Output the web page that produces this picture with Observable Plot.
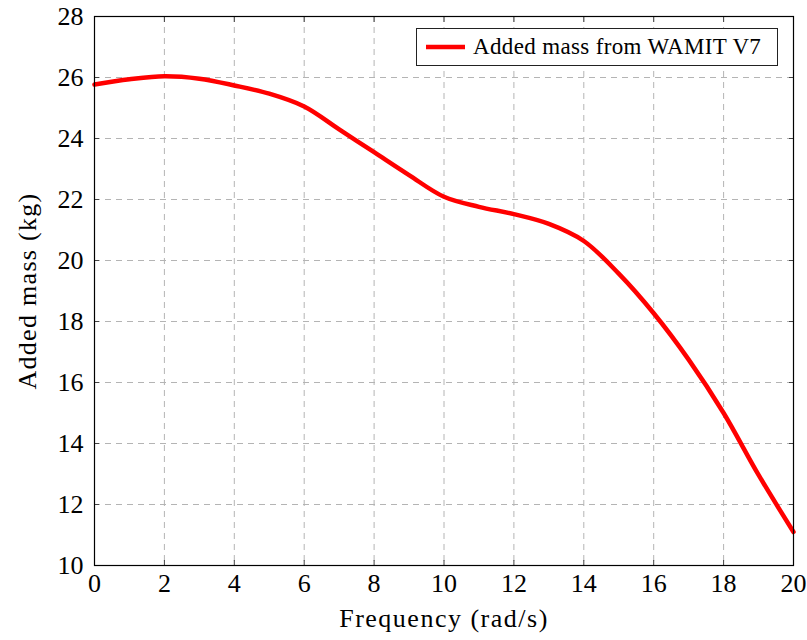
<!DOCTYPE html>
<html>
<head>
<meta charset="utf-8">
<script src="https://cdn.jsdelivr.net/npm/d3@7"></script>
<script src="https://cdn.jsdelivr.net/npm/@observablehq/plot@0.6"></script>
<style>
  html, body { margin: 0; padding: 0; background: #fff; }
  #wrap { position: relative; width: 807px; height: 640px; font-family: "Liberation Serif"; }
  #legend { position: absolute; left: 416px; top: 28px; width: 362px; height: 38px; border: 1px solid #222;
            background: #fff; box-sizing: border-box; display: flex; align-items: center; font-size: 23px;
            letter-spacing: 0.35px; color: #000; white-space: nowrap; }
  #legend svg { margin-left: 9px; margin-right: 8px; }
</style>
</head>
<body>
<div id="wrap"></div>
<script>
// Data
const frequency = [0, 1, 2, 3, 4, 5, 6, 7, 8, 9, 10, 11, 12, 13, 14, 15, 16, 17, 18, 19, 20];
const addedMass = [25.77, 25.94, 26.04, 25.96, 25.74, 25.47, 25.05, 24.3, 23.55, 22.8, 22.09, 21.76, 21.52, 21.2, 20.64, 19.57, 18.27, 16.75, 15.0, 12.97, 11.1];
const xTicks = [0, 2, 4, 6, 8, 10, 12, 14, 16, 18, 20];
const yTicks = [10, 12, 14, 16, 18, 20, 22, 24, 26, 28];
const seriesName = "Added mass from WAMIT V7";
const xLabel = "Frequency (rad/s)";
const yLabel = "Added mass (kg)";

const data = frequency.map((f, i) => ({f, m: addedMass[i]}));

const gridStyle = {stroke: "#b4b4b4", strokeOpacity: 1, strokeWidth: 1, strokeDasharray: "6,5"};
const FONT = "Liberation Serif";

const chart = Plot.plot({
  width: 807,
  height: 640,
  marginLeft: 94,
  marginRight: 14,
  marginTop: 16,
  marginBottom: 75,
  style: {fontFamily: FONT, fontSize: "26px", color: "#000", background: "#fff"},
  x: {domain: [0, 20], label: null},
  y: {domain: [10, 28], label: null},
  marks: [
    Plot.gridX(xTicks, gridStyle),
    Plot.gridY(yTicks, gridStyle),
    Plot.line(data, {x: "f", y: "m", stroke: "#ff0000", strokeWidth: 4.5, curve: "catmull-rom"}),
    Plot.axisX(xTicks, {anchor: "bottom", tickSize: 0, tickPadding: 8, fontSize: 26, fontFamily: FONT}),
    Plot.axisY(yTicks, {anchor: "left", tickSize: 0, tickPadding: 11, fontSize: 26, fontFamily: FONT}),
    Plot.axisX(xTicks, {anchor: "bottom", tickSize: -5, tickFormat: () => "", stroke: "#444"}),
    Plot.axisX(xTicks, {anchor: "top", tickSize: -5, tickFormat: () => "", stroke: "#444"}),
    Plot.axisY(yTicks, {anchor: "left", tickSize: -5, tickFormat: () => "", stroke: "#444"}),
    Plot.axisY(yTicks, {anchor: "right", tickSize: -5, tickFormat: () => "", stroke: "#444"}),
    Plot.frame({stroke: "#000", strokeWidth: 1.2}),
    Plot.text([xLabel], {frameAnchor: "bottom", textAnchor: "middle", dy: 61, fontSize: 26, fill: "#000", fontFamily: FONT}),
    Plot.text([yLabel], {frameAnchor: "left", textAnchor: "middle", dx: -67, rotate: -90, fontSize: 26, fill: "#000", fontFamily: FONT})
  ]
});

d3.select(chart).selectAll("text")
  .filter(function () { return this.textContent === xLabel; })
  .style("letter-spacing", "1.5px");
d3.select(chart).selectAll("text")
  .filter(function () { return this.textContent === yLabel; })
  .style("letter-spacing", "1.3px");

const wrap = document.getElementById("wrap");
wrap.appendChild(chart);

const legend = document.createElement("div");
legend.id = "legend";
legend.innerHTML = `<svg width="39" height="10"><line x1="0" y1="5" x2="39" y2="5" stroke="#ff0000" stroke-width="4.5"/></svg><span></span>`;
legend.querySelector("span").textContent = seriesName;
wrap.appendChild(legend);
</script>
</body>
</html>
